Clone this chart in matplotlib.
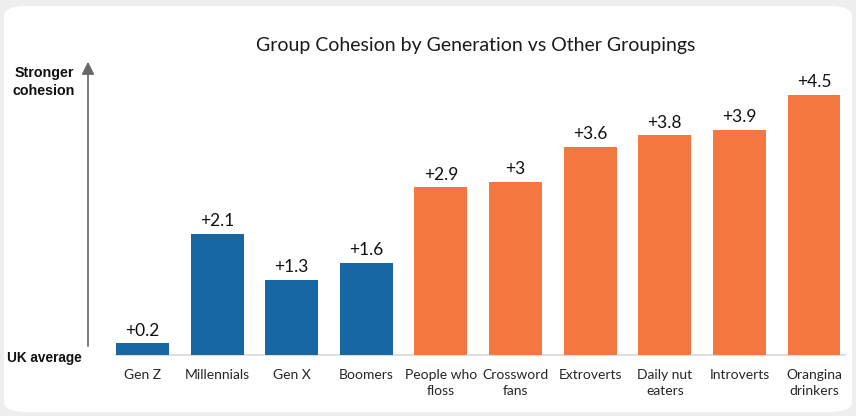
import numpy as np
import matplotlib.pyplot as plt
from matplotlib.patches import FancyBboxPatch, FancyArrowPatch

# data
groups = ['Gen Z', 'Millennials', 'Gen X', 'Boomers', 'People who\nfloss',
          'Crossword\nfans', 'Extroverts', 'Daily nut\neaters', 'Introverts',
          'Orangina\ndrinkers']
cohesion = [0.2, 2.1, 1.3, 1.6, 2.9, 3.0, 3.6, 3.8, 3.9, 4.5]
is_generation = [True, True, True, True, False, False, False, False, False, False]

blue = '#1767a4'
orange = '#f4773f'
plt.rcParams['font.family'] = ['Lato', 'DejaVu Sans']

W, H = 856, 416
fig = plt.figure(figsize=(W / 100, H / 100), dpi=100)
fig.patch.set_facecolor('#eeeeee')

# white rounded panel behind everything
panel = FancyBboxPatch((4 / W, 4 / H), 848 / W, 406 / H,
                       boxstyle='round,pad=0,rounding_size=0.025',
                       transform=fig.transFigure, facecolor='white',
                       edgecolor='none', zorder=-5)
fig.patches.append(panel)

# axes placed so that 0 sits at y=355px and one unit is ~57.8px
ax_left, ax_right = 105.2, 851.3
ax_bottom, ax_top = 355, 55
ax = fig.add_axes([ax_left / W, (H - ax_bottom) / H,
                   (ax_right - ax_left) / W, (ax_bottom - ax_top) / H])
ax.set_zorder(2)
ax.set_facecolor('none')
ax.set_xlim(-0.5, len(groups) - 0.5)
ax.set_ylim(0, (ax_bottom - ax_top) / 57.8)

x = np.arange(len(groups))
colors = [blue if g else orange for g in is_generation]
ax.bar(x, cohesion, width=0.71, color=colors, zorder=2)

for xi, v in zip(x, cohesion):
    ax.text(xi, v + 0.08, '+%g' % v, ha='center', va='bottom',
            fontsize=12.5, color='#111111')

ax.plot([-0.36, 9.42], [0, 0], color='#d9d9d9', lw=1.2, zorder=1,
        clip_on=False)

ax.set_xticks(x)
ax.set_xticklabels(groups, fontsize=10, color='#262626', linespacing=1.45)
ax.tick_params(axis='x', length=0, pad=10)
ax.set_yticks([])
for s in ax.spines.values():
    s.set_visible(False)

# vertical arrow on the left
fig.patches.append(FancyArrowPatch(
    (88 / W, (H - 349) / H), (88 / W, (H - 59) / H),
    transform=fig.transFigure, arrowstyle='-|>,head_length=5,head_width=2.5',
    color='#666666', lw=1.2, mutation_scale=1.5))

fig.text(44 / W, (H - 82) / H, 'Stronger\ncohesion', ha='center', va='center',
         fontsize=10.3, fontweight='bold', family='Liberation Sans',
         linespacing=1.3, color='#111111')
fig.text(44 / W, (H - 358) / H, 'UK average', ha='center', va='center',
         fontsize=9.8, fontweight='bold', family='Liberation Sans',
         color='#111111')

fig.text(476 / W, (H - 46) / H, 'Group Cohesion by Generation vs Other Groupings',
         ha='center', va='center', fontsize=14, color='#1a1a1a')

fig.savefig('out.png', dpi=100, facecolor=fig.get_facecolor())
